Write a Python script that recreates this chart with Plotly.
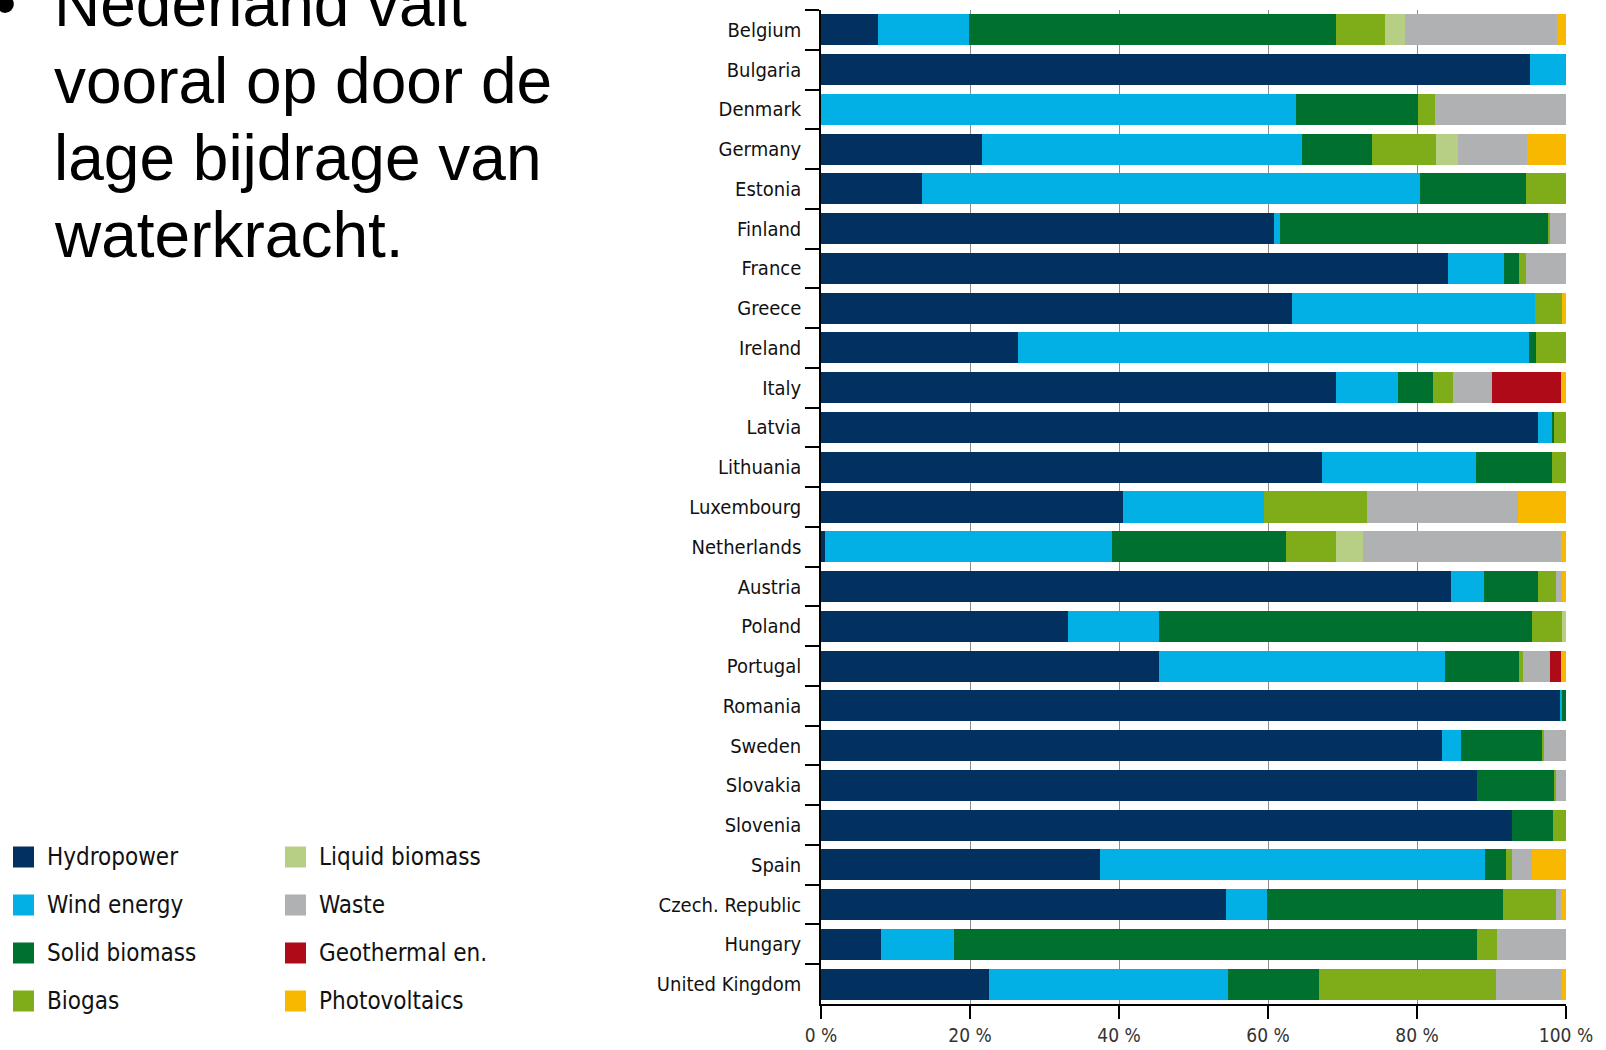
import plotly.graph_objects as go

countries = ["Belgium", "Bulgaria", "Denmark", "Germany", "Estonia", "Finland", "France",
             "Greece", "Ireland", "Italy", "Latvia", "Lithuania", "Luxembourg", "Netherlands",
             "Austria", "Poland", "Portugal", "Romania", "Sweden", "Slovakia", "Slovenia",
             "Spain", "Czech. Republic", "Hungary", "United Kingdom"]

hydropower     = [7.7, 95.2, 0.0, 21.6, 13.6, 60.8, 84.2, 63.2, 26.5, 69.1, 96.3, 67.2, 40.5, 0.5,
                  84.6, 33.2, 45.4, 99.3, 83.4, 88.0, 92.8, 37.5, 54.3, 8.0, 22.5]
wind_energy    = [12.2, 4.8, 63.7, 42.9, 66.8, 0.8, 7.5, 32.7, 68.5, 8.3, 1.8, 20.7, 19.0, 38.5,
                  4.4, 12.2, 38.3, 0.2, 2.5, 0.0, 0.0, 51.6, 5.6, 9.9, 32.1]
solid_biomass  = [49.2, 0.0, 16.4, 9.4, 14.2, 36.1, 2.0, 0.0, 1.0, 4.7, 0.3, 10.2, 0.0, 23.4,
                  7.3, 50.1, 10.0, 0.5, 10.9, 10.4, 5.4, 2.8, 31.6, 70.2, 12.2]
biogas         = [6.6, 0.0, 2.3, 8.7, 5.4, 0.2, 0.9, 3.6, 4.0, 2.7, 1.6, 1.9, 13.8, 6.7,
                  2.3, 4.0, 0.5, 0.0, 0.2, 0.2, 1.8, 0.9, 7.1, 2.7, 23.8]
liquid_biomass = [2.7, 0.0, 0.0, 2.9, 0.0, 0.0, 0.0, 0.0, 0.0, 0.0, 0.0, 0.0, 0.0, 3.7,
                  0.0, 0.5, 0.0, 0.0, 0.0, 0.0, 0.0, 0.0, 0.0, 0.0, 0.0]
waste          = [20.4, 0.0, 17.6, 9.3, 0.0, 2.1, 5.4, 0.0, 0.0, 5.3, 0.0, 0.0, 20.2, 26.5,
                  0.9, 0.0, 3.7, 0.0, 3.0, 1.4, 0.0, 2.7, 0.7, 9.2, 8.9]
geothermal     = [0.0, 0.0, 0.0, 0.0, 0.0, 0.0, 0.0, 0.0, 0.0, 9.2, 0.0, 0.0, 0.0, 0.0,
                  0.0, 0.0, 1.4, 0.0, 0.0, 0.0, 0.0, 0.0, 0.0, 0.0, 0.0]
photovoltaics  = [1.2, 0.0, 0.0, 5.2, 0.0, 0.0, 0.0, 0.5, 0.0, 0.7, 0.0, 0.0, 6.5, 0.7,
                  0.5, 0.0, 0.7, 0.0, 0.0, 0.0, 0.0, 4.5, 0.7, 0.0, 0.5]

series_names = ["Hydropower", "Wind energy", "Solid biomass", "Biogas",
                "Liquid biomass", "Waste", "Geothermal en.", "Photovoltaics"]
series_values = [hydropower, wind_energy, solid_biomass, biogas,
                 liquid_biomass, waste, geothermal, photovoltaics]
series_colors = ["#03315F", "#02B0E5", "#00702E", "#7FAD19",
                 "#B6CF84", "#B0B1B3", "#AF0A18", "#F9B800"]

tick_values = [0, 20, 40, 60, 80, 100]
tick_labels = ["0 %", "20 %", "40 %", "60 %", "80 %", "100 %"]

text_lines = ["Nederland valt", "vooral op door de", "lage bijdrage van", "waterkracht."]

W, H = 1606, 1050
COND = "DejaVu Sans Condensed, Liberation Sans Narrow, Arial Narrow, sans-serif"
ARIAL = "Liberation Sans, Arial, sans-serif"

fig = go.Figure()
for name, vals, col in zip(series_names, series_values, series_colors):
    fig.add_trace(go.Bar(
        y=countries, x=vals, name=name, orientation="h",
        marker=dict(color=col, line=dict(width=0)),
        showlegend=False,
    ))

fig.update_layout(
    width=W, height=H,
    margin=dict(l=0, r=0, t=0, b=0, pad=0, autoexpand=False),
    paper_bgcolor="white", plot_bgcolor="white",
    barmode="stack", bargap=0.22,
    showlegend=False,
    xaxis=dict(
        domain=[821 / W, 1566 / W], automargin=False,
        range=[0, 100], tickmode="array", tickvals=tick_values, ticktext=tick_labels,
        showgrid=True, gridcolor="#8C8C8C", gridwidth=1, zeroline=False,
        showline=True, linecolor="black", linewidth=1.5,
        ticks="outside", ticklen=13, tickcolor="black", tickwidth=1.5,
        tickfont=dict(family=COND, size=19, color="#333333"),
    ),
    yaxis=dict(
        domain=[1 - 1004 / H, 1 - 10 / H], automargin=False,
        type="category", categoryorder="array", categoryarray=countries,
        autorange="reversed",
        showgrid=False, zeroline=False,
        showline=True, linecolor="black", linewidth=1.5,
        ticks="outside", ticklen=14, tickcolor="black", tickwidth=1.5,
        tickson="boundaries", ticklabelstandoff=14,
        tickfont=dict(family=COND, size=20, color="#111111"),
    ),
)

# Bullet text on the left
fs = 64
baselines = [26, 103, 180, 257]
for line, b in zip(text_lines, baselines):
    yc = b - 0.3465 * fs
    fig.add_annotation(x=52 / W, y=1 - yc / H, xref="paper", yref="paper",
                       xanchor="left", yanchor="middle", showarrow=False,
                       text=line, font=dict(family=ARIAL, size=fs, color="black"))
fig.add_annotation(x=5 / W, y=1 - (baselines[0] - 0.3465 * fs) / H, xref="paper", yref="paper",
                   xanchor="center", yanchor="middle", showarrow=False,
                   text="•", font=dict(family=ARIAL, size=fs, color="black"))

# Legend (two columns)
col_x = [13, 285]
row_y = [857, 905, 953, 1001]
sq = 21
for i, (name, col) in enumerate(zip(series_names, series_colors)):
    cx = col_x[i // 4]
    cy = row_y[i % 4]
    fig.add_shape(type="rect", xref="paper", yref="paper",
                  x0=cx / W, x1=(cx + sq) / W,
                  y0=1 - (cy + sq / 2) / H, y1=1 - (cy - sq / 2) / H,
                  fillcolor=col, line=dict(width=0))
    fig.add_annotation(x=(cx + 32) / W, y=1 - cy / H, xref="paper", yref="paper",
                       xanchor="left", yanchor="middle", showarrow=False,
                       text=name, font=dict(family=COND, size=24, color="#111111"))

fig.write_html("out.html")
